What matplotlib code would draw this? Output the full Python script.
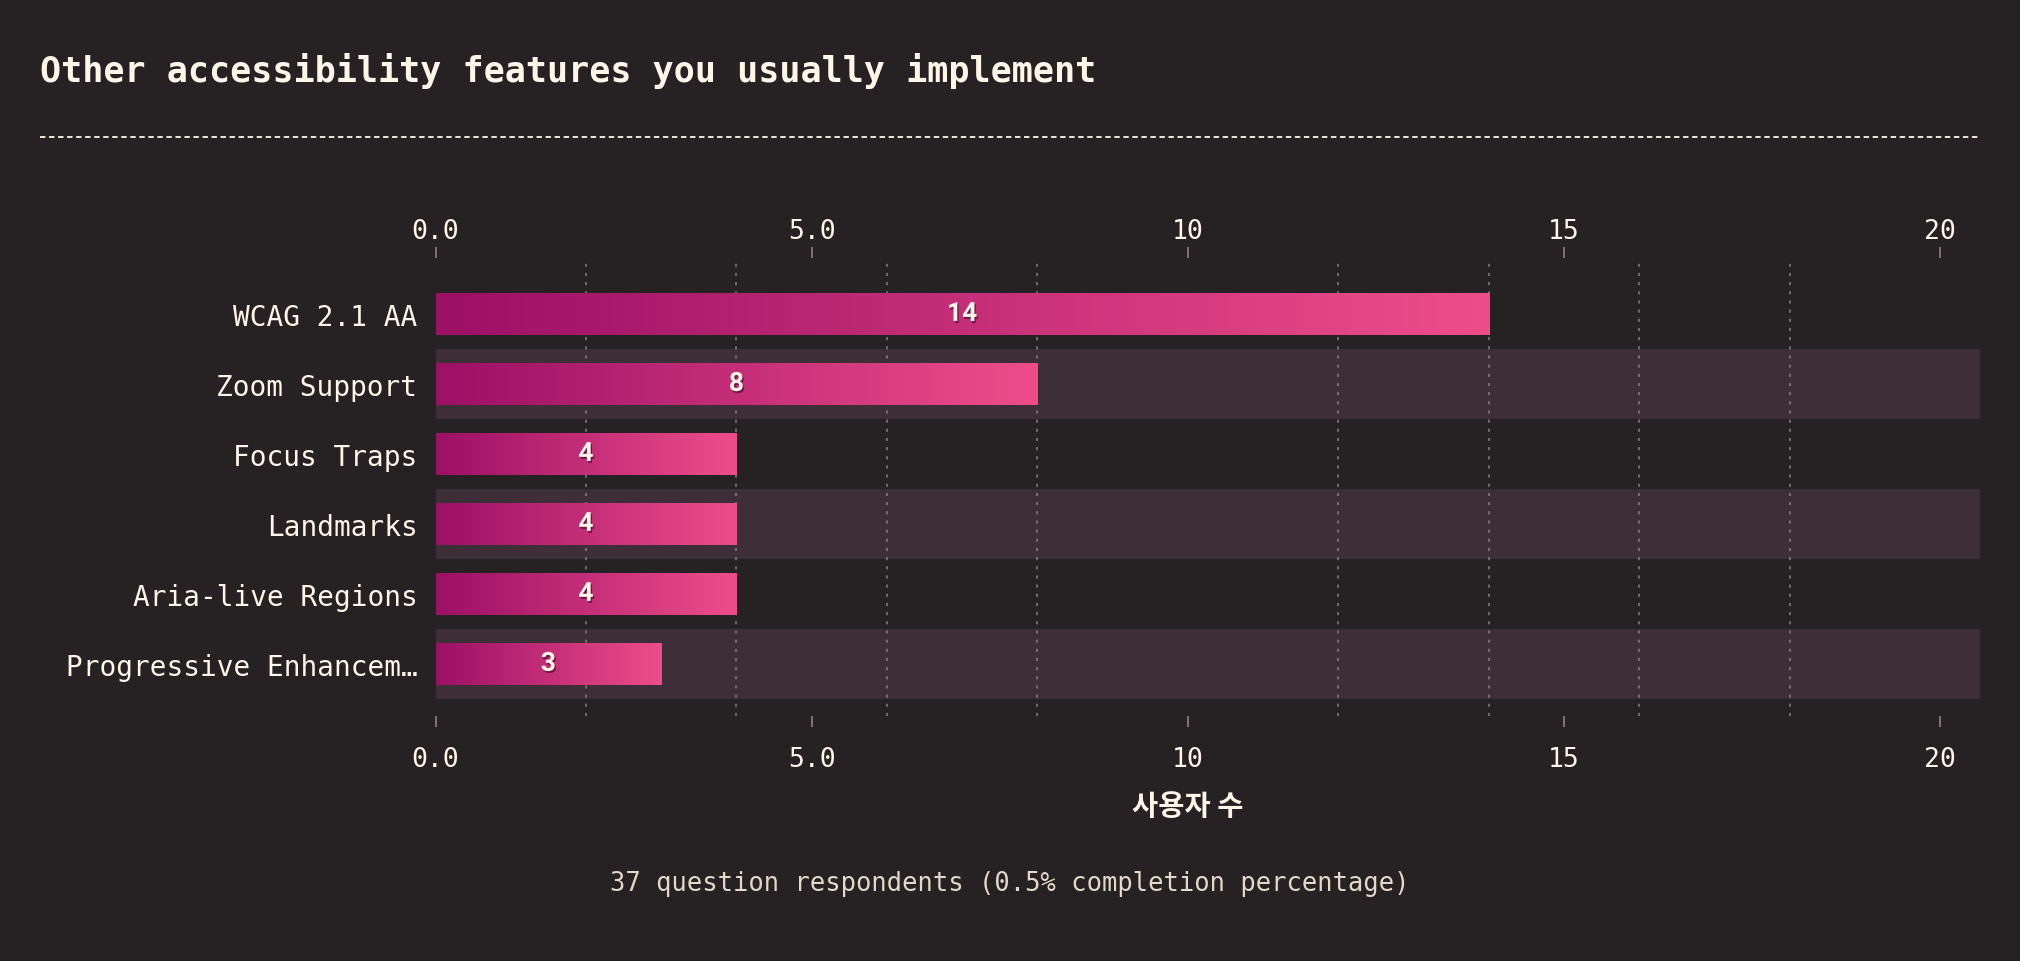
import numpy as np
import matplotlib
matplotlib.use("Agg")
import matplotlib.pyplot as plt
from matplotlib.colors import LinearSegmentedColormap
from matplotlib.lines import Line2D
import matplotlib.patheffects as pe

# chart data
features = ["WCAG 2.1 AA", "Zoom Support", "Focus Traps", "Landmarks",
            "Aria-live Regions", "Progressive Enhancem\u2026"]
counts = [14, 8, 4, 4, 4, 3]
major_ticks = [0, 5, 10, 15, 20]
major_labels = ["0.0", "5.0", "10", "15", "20"]
grid_ticks = list(range(0, 21, 2))

TITLE = "Other accessibility features you usually implement"
XLABEL = "사용자 수"
FOOTER = "37 question respondents (0.5% completion percentage)"

BG = "#262223"
BAND = "#3d2e38"
TEXT = "#fff6e8"
FOOT = "#e4d9c8"
GRID = "#8a8285"
MONO = "DejaVu Sans Mono"

grad = LinearSegmentedColormap.from_list("barfill", ["#9c1066", "#ee4d8a"])


def main():
    fig = plt.figure(figsize=(20.2, 9.62), dpi=100, facecolor=BG)
    ax = fig.add_axes([0.2156, 0.2543, 0.7646, 0.4765])
    ax.set_facecolor(BG)

    y = np.arange(len(features))

    # alternating bands
    for i in y:
        if i % 2 == 1:
            ax.axhspan(i - 0.5, i + 0.5, color=BAND, zorder=0.2, lw=0)

    bars = ax.barh(y, counts, height=0.6, color="none", zorder=2)
    gradient = np.linspace(0, 1, 256).reshape(1, -1)
    for b, v in zip(bars, counts):
        x0, y0, w, h = b.get_x(), b.get_y(), b.get_width(), b.get_height()
        im = ax.imshow(gradient, cmap=grad, aspect="auto",
                       extent=(x0, x0 + w, y0 + h, y0), zorder=2,
                       interpolation="bicubic")
        im.set_clip_path(b)
        ax.text(x0 + w / 2, y0 + h / 2, str(v), ha="center", va="center",
                color=TEXT, fontsize=19, fontweight="bold", family="Roboto",
                zorder=3,
                path_effects=[pe.withSimplePatchShadow(offset=(1, -1.5),
                                                       shadow_rgbFace="#3a0a20",
                                                       alpha=0.6)])
    ax.set_xlim(0, 20.53)
    ax.set_ylim(len(features) - 0.25, -0.8)

    # bottom ticks
    ax.set_xticks(major_ticks)
    ax.set_xticklabels(major_labels, family=MONO)
    ax.set_xticks(grid_ticks, minor=True)
    ax.tick_params(axis="x", which="major", length=8, width=1.2,
                   color=GRID, labelcolor=TEXT, labelsize=19, pad=13)
    ax.tick_params(axis="x", which="minor", length=0)

    # top ticks
    top = ax.secondary_xaxis("top")
    top.set_xticks(major_ticks)
    top.set_xticklabels(major_labels, family=MONO)
    top.tick_params(axis="x", length=8, width=1.2, color=GRID,
                    labelcolor=TEXT, labelsize=19, pad=2)
    for s in top.spines.values():
        s.set_visible(False)

    ax.set_yticks(y)
    ax.set_yticklabels(features, family=MONO, fontsize=20, color=TEXT)
    ax.tick_params(axis="y", length=0, pad=13)

    ax.set_axisbelow(True)
    ax.grid(which="minor", axis="x", color=GRID, linestyle=(0, (2, 4)), lw=1.1)
    for s in ax.spines.values():
        s.set_visible(False)

    ax.set_xlabel(XLABEL, family=["Noto Sans CJK KR", "DejaVu Sans"],
                  fontsize=20.5, fontweight="bold", color=TEXT)
    ax.xaxis.set_label_coords(10 / 20.53, -0.165)

    # title, rule and footer
    fig.text(0.0198, 0.926, TITLE, family=MONO, fontsize=25.2,
             fontweight="bold", color=TEXT, va="center", ha="left")
    fig.add_artist(Line2D([0.0198, 0.980], [0.8565, 0.8565],
                          transform=fig.transFigure, color=TEXT, lw=1.3,
                          linestyle=(0, (3, 2))))
    fig.text(0.5, 0.081, FOOTER, family=MONO, fontsize=18.4, color=FOOT,
             ha="center", va="center")

    fig.savefig("out.png", dpi=100, facecolor=BG)


if __name__ == "__main__":
    main()
